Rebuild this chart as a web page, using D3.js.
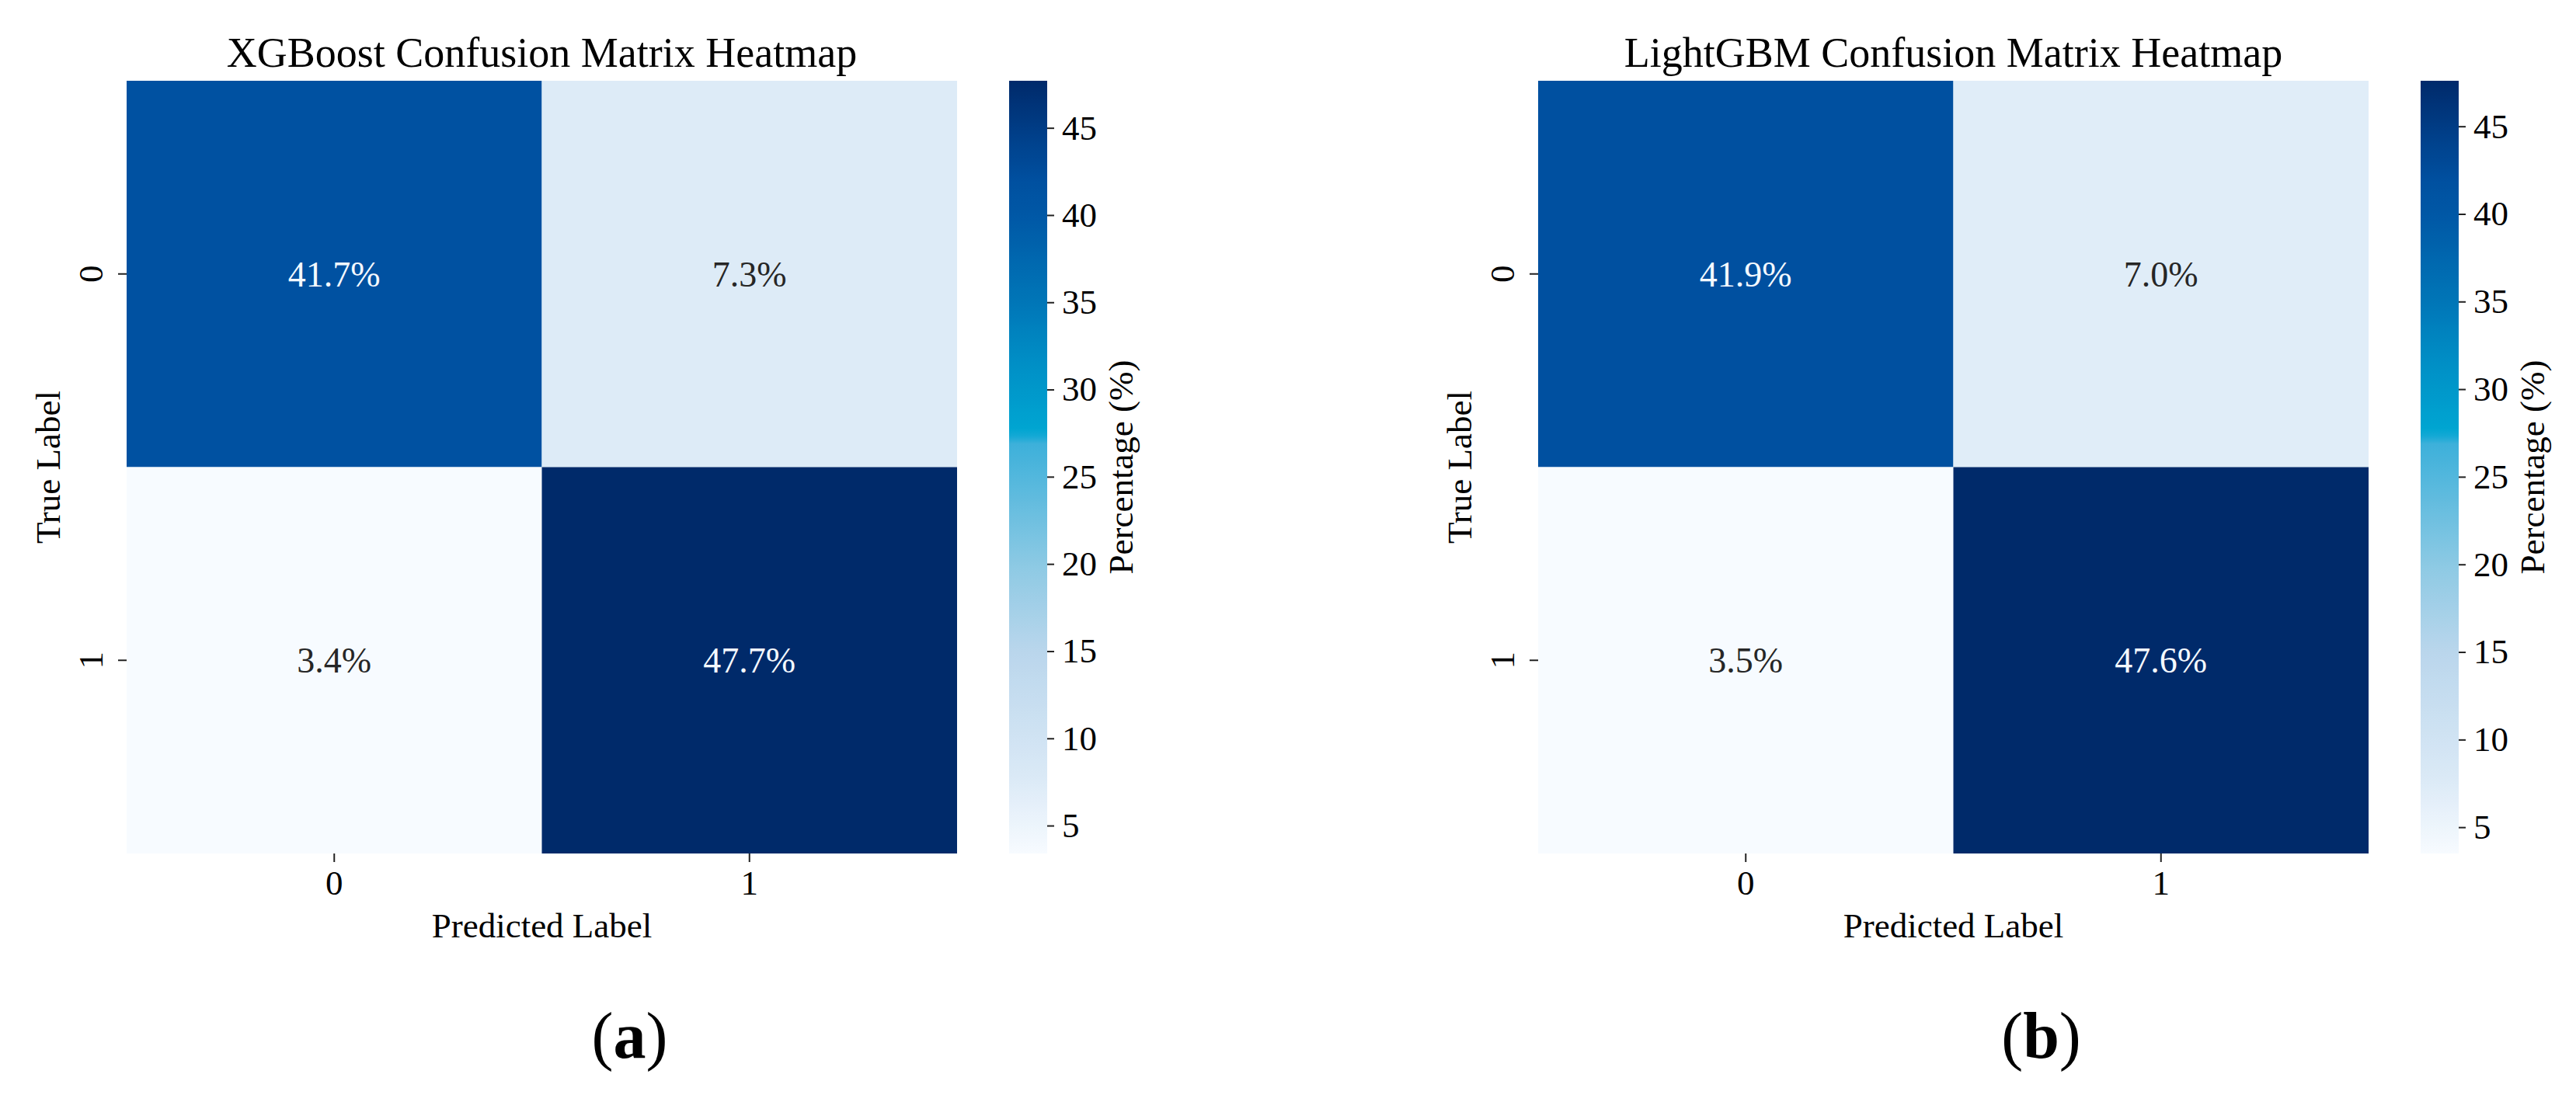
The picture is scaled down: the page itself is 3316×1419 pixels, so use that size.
<!DOCTYPE html>
<html>
<head>
<meta charset="utf-8">
<script src="https://cdn.jsdelivr.net/npm/d3@7"></script>
<style>
  body { margin: 0; background: #fff; }
  svg text { font-family: "Liberation Serif", "Times New Roman", serif; fill: #000; }
</style>
</head>
<body>
<div class="chart"></div>
<script>
// data
const labels = ["0", "1"];
const panelTitles = ["XGBoost Confusion Matrix Heatmap", "LightGBM Confusion Matrix Heatmap"];
const panelTags = ["a", "b"];
const xgbValues = [[41.7, 7.3], [3.4, 47.7]];
const lgbValues = [[41.9, 7.0], [3.5, 47.6]];
const cbarTicks = [5, 10, 15, 20, 25, 30, 35, 40, 45];

// colour map (reads like a boosted "Blues")
const cmapStops = [0, 0.1, 0.26, 0.37, 0.53, 0.545, 0.645, 0.71, 0.825, 0.87, 0.94, 1];
const cmapColors = ["#f7fbff", "#dae9f6", "#bad6ec", "#8ecae4", "#3db0da", "#00a6d2",
                    "#008cc4", "#0077b8", "#0058a6", "#0050a0", "#003c85", "#002a6a"];

const W = 3316, H = 1419;
const heat = { left: 163, top: 104, width: 1069, height: 995 };
const cbar = { gap: 67, width: 49 };
const panelShift = 1817;

const svg = d3.select(".chart").append("svg")
  .attr("width", W).attr("height", H)
  .style("background", "#fff");

function drawPanel(values, title, tag, i) {
  const g = svg.append("g").attr("transform", `translate(${i * panelShift},0)`);
  const flat = values.flat();
  const vmin = d3.min(flat), vmax = d3.max(flat);

  const x = d3.scaleBand().domain(labels).range([heat.left, heat.left + heat.width]);
  const y = d3.scaleBand().domain(labels).range([heat.top, heat.top + heat.height]);
  const t = d3.scaleLinear().domain([vmin, vmax]);
  const cmap = d3.scaleLinear().domain(cmapStops).range(cmapColors).interpolate(d3.interpolateRgb);
  const color = v => cmap(t(v));

  const cells = [];
  values.forEach((row, r) => row.forEach((v, c) => cells.push({ r: labels[r], c: labels[c], v })));

  g.selectAll("rect.cell").data(cells).join("rect")
    .attr("class", "cell")
    .attr("x", d => x(d.c)).attr("y", d => y(d.r))
    .attr("width", x.bandwidth()).attr("height", y.bandwidth())
    .attr("fill", d => color(d.v));

  g.selectAll("text.annot").data(cells).join("text")
    .attr("class", "annot")
    .attr("x", d => x(d.c) + x.bandwidth() / 2)
    .attr("y", d => y(d.r) + y.bandwidth() / 2)
    .attr("dy", "0.35em")
    .attr("text-anchor", "middle")
    .style("font-size", "46px")
    .style("fill", d => t(d.v) > 0.5 ? "#f4f9ff" : "#262626")
    .text(d => d.v.toFixed(1) + "%");

  // axes
  const xAxis = g.append("g")
    .attr("transform", `translate(0,${heat.top + heat.height})`)
    .call(d3.axisBottom(x).tickSize(11).tickPadding(10));
  xAxis.select(".domain").remove();
  xAxis.selectAll("line").attr("stroke", "#222").attr("stroke-width", 2);
  xAxis.selectAll("text").style("font-size", "45px").attr("fill", "#000");

  const yAxis = g.append("g")
    .attr("transform", `translate(${heat.left},0)`)
    .call(d3.axisLeft(y).tickSize(11).tickPadding(0));
  yAxis.select(".domain").remove();
  yAxis.selectAll("line").attr("stroke", "#222").attr("stroke-width", 2);
  yAxis.selectAll("text")
    .style("font-size", "45px").attr("fill", "#000")
    .attr("text-anchor", "middle")
    .attr("x", null).attr("dy", null)
    .attr("transform", "translate(-31,0) rotate(-90)");

  g.append("text")
    .attr("x", heat.left + heat.width / 2).attr("y", 86)
    .attr("text-anchor", "middle")
    .style("font-size", "54px")
    .text(title);

  g.append("text")
    .attr("x", heat.left + heat.width / 2).attr("y", 1207)
    .attr("text-anchor", "middle")
    .style("font-size", "45px")
    .text("Predicted Label");

  g.append("text")
    .attr("transform", `translate(77,${heat.top + heat.height / 2}) rotate(-90)`)
    .attr("text-anchor", "middle")
    .style("font-size", "45px")
    .text("True Label");

  // colour bar
  const cx = heat.left + heat.width + cbar.gap;
  const cy = d3.scaleLinear().domain([vmin, vmax]).range([heat.top + heat.height, heat.top]);
  const gradId = "grad" + i;
  const grad = svg.append("defs").append("linearGradient")
    .attr("id", gradId).attr("x1", 0).attr("y1", 1).attr("x2", 0).attr("y2", 0);
  grad.selectAll("stop").data(d3.range(0, 1.0001, 0.01)).join("stop")
    .attr("offset", d => d)
    .attr("stop-color", d => cmap(d));
  g.append("rect")
    .attr("x", cx).attr("y", heat.top)
    .attr("width", cbar.width).attr("height", heat.height)
    .attr("fill", `url(#${gradId})`);

  const cAxis = g.append("g")
    .attr("transform", `translate(${cx + cbar.width},0)`)
    .call(d3.axisRight(cy).tickValues(cbarTicks).tickSize(9).tickPadding(10));
  cAxis.select(".domain").remove();
  cAxis.selectAll("line").attr("stroke", "#222").attr("stroke-width", 2);
  cAxis.selectAll("text").style("font-size", "45px").attr("fill", "#000");

  g.append("text")
    .attr("transform", `translate(${cx + cbar.width + 110},${heat.top + heat.height / 2}) rotate(-90)`)
    .attr("text-anchor", "middle")
    .style("font-size", "45px")
    .text("Percentage (%)");

  const tagText = g.append("text")
    .attr("x", heat.left + heat.width / 2 + 113).attr("y", 1362)
    .attr("text-anchor", "middle")
    .style("font-size", "84px");
  tagText.append("tspan").text("(");
  tagText.append("tspan").style("font-weight", "bold").text(tag);
  tagText.append("tspan").text(")");
}

drawPanel(xgbValues, panelTitles[0], panelTags[0], 0);
drawPanel(lgbValues, panelTitles[1], panelTags[1], 1);
</script>
</body>
</html>
